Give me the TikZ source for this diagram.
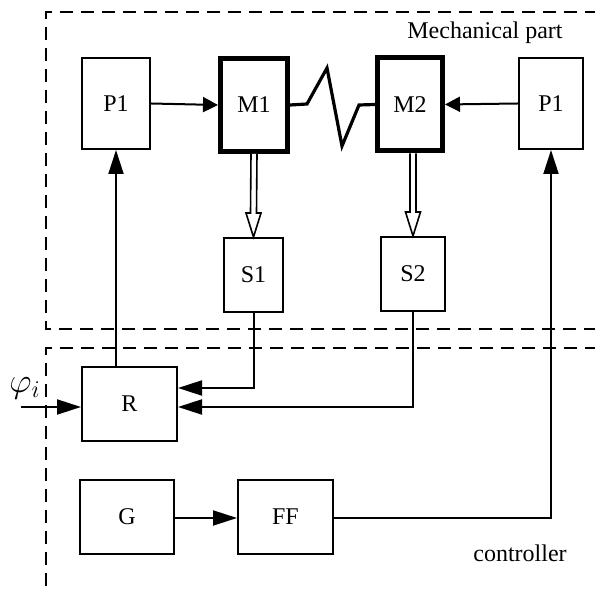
\documentclass[tikz,border=0pt]{standalone}
\usepackage{fontspec}
\setmainfont{Liberation Serif}
\usetikzlibrary{arrows.meta,calc}
\begin{document}
\begin{tikzpicture}[x=0.5pt,y=-0.5pt,
  every node/.style={font=\fontsize{12}{14}\selectfont},
  blk/.style={draw,line width=1pt,inner sep=0pt},
  mblk/.style={draw,line width=2.5pt,inner sep=0pt,minimum width=33.5pt,minimum height=46.5pt},
  arr/.style={line width=1pt,-{Triangle[length=12pt,width=7.5pt]}},
  sarr/.style={line width=1pt,-{Triangle[length=7.5pt,width=7.5pt]}},
  frame/.style={line width=0.9pt,dash pattern=on 6.5pt off 4pt},
  dbl/.style={line width=0.8pt,fill=white,line join=miter},
]
\useasboundingbox (0,0) rectangle (595,592);
\clip (0,0) rectangle (595,592);

% dashed frames
\draw[frame] (640,12) -- (46,12) -- (46,329) -- (640,329);
\draw[frame] (640,348) -- (46,348) -- (46,640);

% blocks
\node[blk,minimum width=34pt,minimum height=45.5pt] (P1L) at (116,103.5) {P1};
\node[mblk] (M1) at (254,105) {M1};
\node[mblk,minimum width=32.5pt] (M2) at (410,104.5) {M2};
\node[blk,minimum width=32pt,minimum height=45.5pt] (P1R) at (551,103.5) {P1};
\node[blk,minimum width=29.5pt,minimum height=37pt] (S1) at (253.5,275) {S1};
\node[blk,minimum width=32pt,minimum height=37pt] (S2) at (413,274) {S2};
\node[blk,minimum width=47.5pt,minimum height=37pt] (R) at (129.5,404) {R};
\node[blk,minimum width=47pt,minimum height=37pt] (G) at (127,517) {G};
\node[blk,minimum width=47.5pt,minimum height=37pt] (FF) at (285.5,517) {FF};

% labels
\node (mech) at (485,33) {Mechanical part};
\node (ctrl) at (520,553) {controller};
\node[font=\fontsize{17}{20}\selectfont] (phil) at (25,388) {$\varphi_i$};

% connectors
\draw[sarr] (P1L.east) -- (M1.west);
\draw[sarr] (P1R.west) -- (M2.east);
\draw[line width=1.6pt,line join=miter] (M1.east) -- (307,104) -- (327,68) -- (342,146) -- (359,105) -- (M2.west);

\draw[dbl] ($(M1.south)+(-3,0)$) -- ($(S1.north)+(-3,-24)$) -- ($(S1.north)+(-7.5,-24)$) -- (S1.north)
  -- ($(S1.north)+(7.5,-24)$) -- ($(S1.north)+(3,-24)$) -- ($(M1.south)+(3,0)$);
\draw[dbl] ($(M2.south -| S2.north)+(-3,0)$) -- ($(S2.north)+(-3,-24)$) -- ($(S2.north)+(-7.5,-24)$) -- (S2.north)
  -- ($(S2.north)+(7.5,-24)$) -- ($(S2.north)+(3,-24)$) -- ($(M2.south -| S2.north)+(3,0)$);

\draw[arr] (P1L.south |- R.north) -- (P1L.south);
\draw[arr] (S1.south) |- ($(R.east)+(0,-16)$);
\draw[arr] (S2.south) |- ($(R.east)+(0,3)$);
\coordinate (phin) at (21,407);
\draw[arr] (phin) -- (phin -| R.west);
\draw[arr] (G.east |- 0,518) -- (FF.west |- 0,518);
\draw[arr] (FF.east |- 0,518) -| (P1R.south);
\end{tikzpicture}
\end{document}
